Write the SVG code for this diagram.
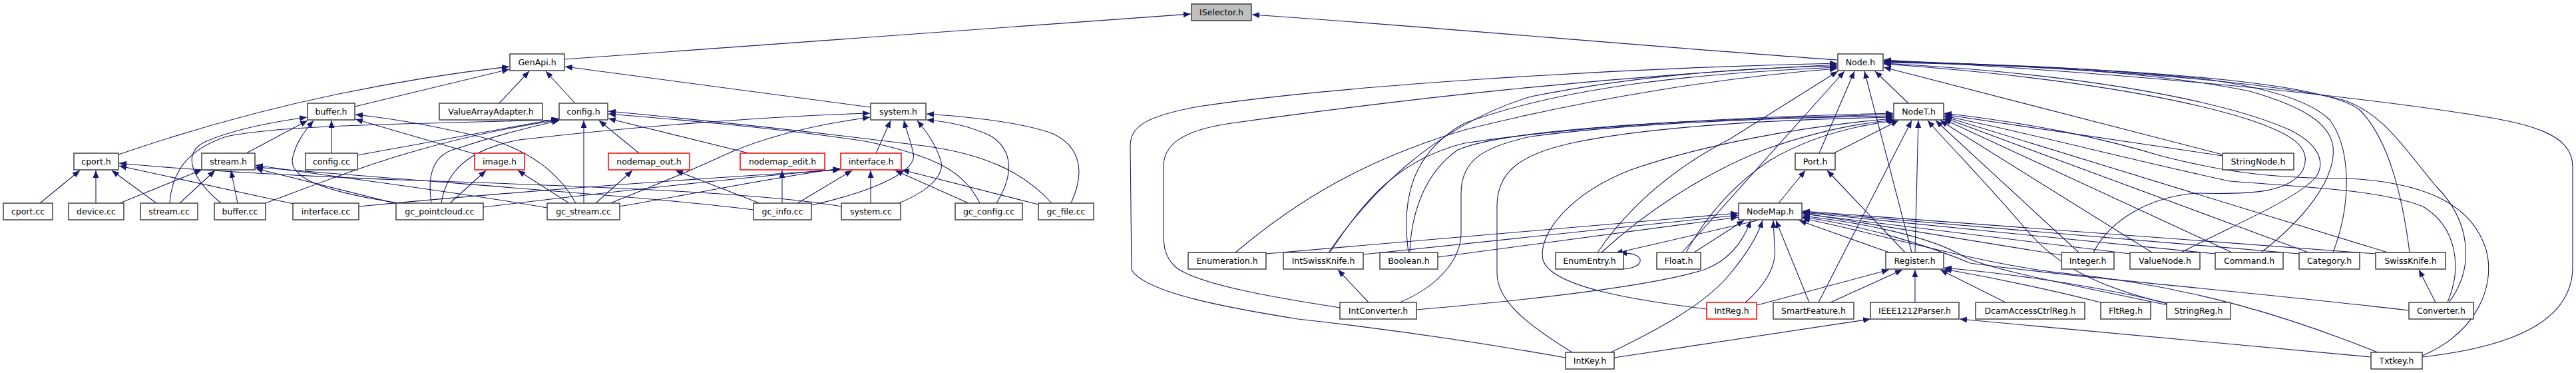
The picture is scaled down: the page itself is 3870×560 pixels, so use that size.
<svg xmlns="http://www.w3.org/2000/svg" width="3870" height="560" viewBox="0 0 3870 560">
<defs>
<marker id="a" markerWidth="11" markerHeight="9" refX="11" refY="4.5" orient="auto" markerUnits="userSpaceOnUse"><path d="M0,0 L11,4.5 L0,9 z" fill="#191970"/></marker>
<style>
.e{fill:none;stroke:#191970;stroke-width:1.1;marker-end:url(#a)}
.n rect{fill:#fff;stroke:#404040;stroke-width:1.5}
.r rect{fill:#fff;stroke:#ff0000;stroke-width:1.5}
.g rect{fill:#bfbfbf;stroke:#404040;stroke-width:1.5}
text{font-family:"DejaVu Sans","Liberation Sans",sans-serif;font-size:12.5px;text-anchor:middle;fill:#000}
</style>
</defs>
<rect width="3870" height="560" fill="#fff"/>
<g id="edges">
<path class="e" d="M848,89 L1789,21"/>
<path class="e" d="M2761,90 C2500,72 2100,36 1881,22"/>
<path class="e" d="M178,232 C300,190 500,130 765,100"/>
<path class="e" d="M533,160 L765,104"/>
<path class="e" d="M750,155 L795,107"/>
<path class="e" d="M864,155 L820,107"/>
<path class="e" d="M1308,161 L849,100"/>
<path class="e" d="M370,230 L462,181"/>
<path class="e" d="M498,230 L498,181"/>
<path class="e" d="M332,305 C290,270 270,230 310,212 C350,195 410,183 461,176"/>
<path class="e" d="M600,305 C500,290 430,270 440,235 C445,215 455,200 471,181"/>
<path class="e" d="M713,231 L534,179"/>
<path class="e" d="M865,305 C840,260 800,230 740,210 C660,190 590,178 534,172"/>
<path class="e" d="M255,305 C258,260 280,225 340,205 C420,188 600,186 839,180"/>
<path class="e" d="M537,233 L840,178"/>
<path class="e" d="M399,305 C520,260 640,210 840,180"/>
<path class="e" d="M648,305 C642,265 650,235 680,225 C740,205 790,192 840,181"/>
<path class="e" d="M663,305 C670,260 700,225 780,210 C950,190 1150,175 1307,170"/>
<path class="e" d="M877,305 L877,181"/>
<path class="e" d="M960,230 L900,181"/>
<path class="e" d="M1125,230 L914,178"/>
<path class="e" d="M1472,305 C1450,260 1410,235 1300,212 C1150,190 1000,178 914,171"/>
<path class="e" d="M1580,305 C1540,260 1480,230 1380,218 C1200,195 1000,175 914,167"/>
<path class="e" d="M270,305 L323,256"/>
<path class="e" d="M180,305 L303,255"/>
<path class="e" d="M357,305 L347,256"/>
<path class="e" d="M60,305 L120,256"/>
<path class="e" d="M144,305 L144,256"/>
<path class="e" d="M235,305 L168,256"/>
<path class="e" d="M441,306 L179,249"/>
<path class="e" d="M1264,310 C1150,290 900,280 600,270 C400,262 250,252 179,245"/>
<path class="e" d="M1132,315 C1000,298 800,285 384,251"/>
<path class="e" d="M597,306 L384,253"/>
<path class="e" d="M822,312 C700,290 500,265 384,248"/>
<path class="e" d="M676,305 L730,256"/>
<path class="e" d="M855,305 L778,256"/>
<path class="e" d="M895,305 L950,256"/>
<path class="e" d="M1141,305 L1015,256"/>
<path class="e" d="M1175,305 L1175,256"/>
<path class="e" d="M1198,305 L1280,256"/>
<path class="e" d="M1308,305 L1308,256"/>
<path class="e" d="M1455,305 L1345,256"/>
<path class="e" d="M1560,307 L1355,255"/>
<path class="e" d="M539,310 C800,285 1100,265 1262,255"/>
<path class="e" d="M726,311 C900,290 1100,268 1262,254"/>
<path class="e" d="M930,310 C1050,290 1150,268 1262,253"/>
<path class="e" d="M1316,230 L1338,181"/>
<path class="e" d="M1219,308 C1300,290 1380,260 1372,230 C1368,210 1362,198 1358,181"/>
<path class="e" d="M1350,305 C1400,285 1420,260 1413,240 C1405,215 1392,198 1378,181"/>
<path class="e" d="M1497,305 C1525,260 1520,225 1490,205 C1460,190 1430,183 1392,180"/>
<path class="e" d="M1609,305 C1630,260 1625,220 1580,200 C1530,182 1450,175 1392,171"/>
<path class="e" d="M917,305 C980,280 1040,255 1090,232 C1150,205 1220,188 1307,176"/>
<path class="e" d="M2867,155 L2817,107"/>
<path class="e" d="M2733,230 L2786,107"/>
<path class="e" d="M2872,379 L2801,107"/>
<path class="e" d="M2352,537 C2200,510 2050,490 1950,479 C1850,463 1720,440 1700,405 L1698,220 C1698,190 1720,175 1800,160 C2000,130 2400,103 2760,95"/>
<path class="e" d="M2013,462 C1950,452 1800,430 1765,400 C1750,385 1748,370 1748,350 L1748,250 C1748,215 1780,195 1850,185 C2100,150 2400,115 2760,97"/>
<path class="e" d="M1996,379 C2050,300 2150,190 2300,145 C2450,115 2600,102 2760,99"/>
<path class="e" d="M2116,379 C2105,300 2120,230 2200,185 C2350,130 2550,110 2760,101"/>
<path class="e" d="M1856,379 C1950,300 2050,240 2200,195 C2400,145 2600,115 2760,103"/>
<path class="e" d="M2400,379 C2440,320 2500,260 2600,208 L2761,107"/>
<path class="e" d="M2527,379 L2771,107"/>
<path class="e" d="M3339,232 L2830,101"/>
<path class="e" d="M3145,379 C3170,330 3230,295 3300,290 C3380,292 3440,290 3460,255 C3475,220 3440,200 3380,180 C3280,148 3100,115 2830,96"/>
<path class="e" d="M3277,379 C3350,340 3450,300 3480,265 C3495,240 3480,215 3440,195 C3350,155 3150,112 2830,95"/>
<path class="e" d="M3397,379 C3460,330 3510,270 3505,220 C3500,185 3460,160 3380,137 C3250,110 3050,97 2830,94"/>
<path class="e" d="M3505,379 C3535,300 3530,220 3500,180 C3470,150 3400,130 3300,117 C3150,103 3000,95 2830,93"/>
<path class="e" d="M3620,379 C3610,300 3590,210 3545,165 C3500,130 3300,105 2830,92"/>
<path class="e" d="M3679,454 C3720,400 3710,330 3660,280 C3610,220 3580,170 3520,150 C3400,120 3100,100 2830,91"/>
<path class="e" d="M3639,536 C3780,520 3865,480 3865,400 L3865,250 C3865,200 3800,185 3700,170 C3500,140 3200,110 2830,90"/>
<path class="e" d="M2755,230 L2852,181"/>
<path class="e" d="M2732,454 L2872,181"/>
<path class="e" d="M2877,379 L2882,181"/>
<path class="e" d="M3256,456 C3150,430 3090,400 3040,340 C2980,270 2930,220 2896,181"/>
<path class="e" d="M3123,379 L2908,181"/>
<path class="e" d="M3233,379 L2915,181"/>
<path class="e" d="M3353,379 L2920,179"/>
<path class="e" d="M3468,379 L2921,177"/>
<path class="e" d="M3587,379 L2921,175"/>
<path class="e" d="M3339,234 L2921,172"/>
<path class="e" d="M3677,454 C3700,400 3690,340 3640,310 C3580,285 3450,280 3350,272 C3200,240 3050,200 2921,174"/>
<path class="e" d="M3639,534 C3720,500 3750,430 3735,375 C3715,310 3650,275 3530,268 C3400,268 3330,255 3250,235 C3150,205 3050,185 2921,170"/>
<path class="e" d="M2362,529 C2290,485 2249,450 2249,410 L2249,310 C2249,260 2280,232 2365,214 C2480,190 2650,180 2844,176"/>
<path class="e" d="M2564,464 C2450,450 2330,430 2318,390 C2310,350 2360,290 2450,255 C2550,220 2700,190 2844,178"/>
<path class="e" d="M2103,454 C2160,430 2195,390 2195,350 L2195,290 C2195,240 2230,220 2300,205 C2450,185 2650,177 2844,174"/>
<path class="e" d="M2118,379 C2120,320 2140,260 2190,225 C2260,195 2500,180 2844,172"/>
<path class="e" d="M1998,379 C2050,300 2100,240 2200,215 C2400,185 2650,175 2844,170"/>
<path class="e" d="M2406,379 C2470,320 2560,260 2650,225 C2720,200 2790,185 2846,180"/>
<path class="e" d="M2533,379 C2560,330 2600,280 2660,240 C2720,205 2790,188 2848,181"/>
<path class="e" d="M2672,305 L2712,256"/>
<path class="e" d="M2838,379 L2703,331"/>
<path class="e" d="M2718,454 L2668,331"/>
<path class="e" d="M2622,454 C2650,430 2670,400 2666,370 L2664,331"/>
<path class="e" d="M2418,530 C2480,500 2560,460 2600,410 C2625,380 2640,355 2648,331"/>
<path class="e" d="M2128,465 C2300,450 2480,430 2560,405 C2600,390 2620,360 2630,331"/>
<path class="e" d="M1902,381 L2611,320"/>
<path class="e" d="M2048,382 L2611,323"/>
<path class="e" d="M2160,386 L2611,326"/>
<path class="e" d="M2640,331 L2427,380"/>
<path class="e" d="M2430,404 C2475,406 2475,376 2433,381"/>
<path class="e" d="M2545,379 L2620,331"/>
<path class="e" d="M3097,383 L2708,320"/>
<path class="e" d="M3200,381 L2708,321"/>
<path class="e" d="M3328,381 L2708,319"/>
<path class="e" d="M3454,381 L2708,318"/>
<path class="e" d="M3569,381 L2708,317"/>
<path class="e" d="M3256,458 C3100,425 2990,405 2950,385 C2900,355 2800,335 2708,324"/>
<path class="e" d="M3619,466 C3400,440 3100,415 2960,395 C2900,370 2800,338 2708,326"/>
<path class="e" d="M3572,529 C3450,480 3300,430 3100,410 C2980,398 2800,345 2708,328"/>
<path class="e" d="M2862,379 L2745,256"/>
<path class="e" d="M2640,458 L2838,405"/>
<path class="e" d="M2750,454 L2858,405"/>
<path class="e" d="M2877,454 L2877,405"/>
<path class="e" d="M3013,454 L2915,405"/>
<path class="e" d="M3160,455 C3080,435 3000,418 2921,404"/>
<path class="e" d="M3256,455 C3150,430 3030,412 2921,402"/>
<path class="e" d="M2425,537 L2810,479"/>
<path class="e" d="M3562,536 L2944,479"/>
<path class="e" d="M2056,454 L2010,405"/>
<path class="e" d="M3659,454 L3634,405"/>
</g>
<g id="n_ISelector_h" class="g"><rect x="1790" y="6" width="90" height="25"/><text x="1835" y="23">ISelector.h</text></g>
<g id="n_GenApi_h" class="n"><rect x="766" y="81" width="82" height="25"/><text x="807" y="98">GenApi.h</text></g>
<g id="n_buffer_h" class="n"><rect x="462" y="155" width="71" height="25"/><text x="497.5" y="172">buffer.h</text></g>
<g id="n_ValueArrayAdapter_h" class="n"><rect x="660" y="155" width="155" height="25"/><text x="737.5" y="172">ValueArrayAdapter.h</text></g>
<g id="n_config_h" class="n"><rect x="840" y="155" width="73" height="25"/><text x="876.5" y="172">config.h</text></g>
<g id="n_system_h" class="n"><rect x="1308" y="155" width="83" height="25"/><text x="1349.5" y="172">system.h</text></g>
<g id="n_cport_h" class="n"><rect x="111" y="230" width="67" height="25"/><text x="144.5" y="247">cport.h</text></g>
<g id="n_stream_h" class="n"><rect x="303" y="230" width="80" height="25"/><text x="343" y="247">stream.h</text></g>
<g id="n_config_cc" class="n"><rect x="459" y="230" width="78" height="25"/><text x="498" y="247">config.cc</text></g>
<g id="n_image_h" class="r"><rect x="713" y="230" width="75" height="25"/><text x="750.5" y="247">image.h</text></g>
<g id="n_nodemap_out_h" class="r"><rect x="914" y="230" width="122" height="25"/><text x="975" y="247">nodemap_out.h</text></g>
<g id="n_nodemap_edit_h" class="r"><rect x="1112" y="230" width="127" height="25"/><text x="1175.5" y="247">nodemap_edit.h</text></g>
<g id="n_interface_h" class="r"><rect x="1263" y="230" width="91" height="25"/><text x="1308.5" y="247">interface.h</text></g>
<g id="n_cport_cc" class="n"><rect x="5" y="305" width="74" height="25"/><text x="42" y="322">cport.cc</text></g>
<g id="n_device_cc" class="n"><rect x="103" y="305" width="83" height="25"/><text x="144.5" y="322">device.cc</text></g>
<g id="n_stream_cc" class="n"><rect x="211" y="305" width="86" height="25"/><text x="254" y="322">stream.cc</text></g>
<g id="n_buffer_cc" class="n"><rect x="322" y="305" width="77" height="25"/><text x="360.5" y="322">buffer.cc</text></g>
<g id="n_interface_cc" class="n"><rect x="440" y="305" width="99" height="25"/><text x="489.5" y="322">interface.cc</text></g>
<g id="n_gc_pointcloud_cc" class="n"><rect x="595" y="305" width="131" height="25"/><text x="660.5" y="322">gc_pointcloud.cc</text></g>
<g id="n_gc_stream_cc" class="n"><rect x="822" y="305" width="109" height="25"/><text x="876.5" y="322">gc_stream.cc</text></g>
<g id="n_gc_info_cc" class="n"><rect x="1132" y="305" width="87" height="25"/><text x="1175.5" y="322">gc_info.cc</text></g>
<g id="n_system_cc" class="n"><rect x="1264" y="305" width="89" height="25"/><text x="1308.5" y="322">system.cc</text></g>
<g id="n_gc_config_cc" class="n"><rect x="1435" y="305" width="101" height="25"/><text x="1485.5" y="322">gc_config.cc</text></g>
<g id="n_gc_file_cc" class="n"><rect x="1560" y="305" width="83" height="25"/><text x="1601.5" y="322">gc_file.cc</text></g>
<g id="n_Node_h" class="n"><rect x="2761" y="81" width="68" height="25"/><text x="2795" y="98">Node.h</text></g>
<g id="n_NodeT_h" class="n"><rect x="2845" y="155" width="75" height="25"/><text x="2882.5" y="172">NodeT.h</text></g>
<g id="n_Port_h" class="n"><rect x="2697" y="230" width="60" height="25"/><text x="2727" y="247">Port.h</text></g>
<g id="n_StringNode_h" class="n"><rect x="3339" y="230" width="107" height="25"/><text x="3392.5" y="247">StringNode.h</text></g>
<g id="n_NodeMap_h" class="n"><rect x="2612" y="305" width="95" height="25"/><text x="2659.5" y="322">NodeMap.h</text></g>
<g id="n_Enumeration_h" class="n"><rect x="1785" y="379" width="117" height="25"/><text x="1843.5" y="396">Enumeration.h</text></g>
<g id="n_IntSwissKnife_h" class="n"><rect x="1928" y="379" width="120" height="25"/><text x="1988" y="396">IntSwissKnife.h</text></g>
<g id="n_Boolean_h" class="n"><rect x="2073" y="379" width="87" height="25"/><text x="2116.5" y="396">Boolean.h</text></g>
<g id="n_EnumEntry_h" class="n"><rect x="2337" y="379" width="102" height="25"/><text x="2388" y="396">EnumEntry.h</text></g>
<g id="n_Float_h" class="n"><rect x="2489" y="379" width="66" height="25"/><text x="2522" y="396">Float.h</text></g>
<g id="n_Register_h" class="n"><rect x="2833" y="379" width="87" height="25"/><text x="2876.5" y="396">Register.h</text></g>
<g id="n_Integer_h" class="n"><rect x="3097" y="379" width="79" height="25"/><text x="3136.5" y="396">Integer.h</text></g>
<g id="n_ValueNode_h" class="n"><rect x="3200" y="379" width="105" height="25"/><text x="3252.5" y="396">ValueNode.h</text></g>
<g id="n_Command_h" class="n"><rect x="3328" y="379" width="102" height="25"/><text x="3379" y="396">Command.h</text></g>
<g id="n_Category_h" class="n"><rect x="3454" y="379" width="91" height="25"/><text x="3499.5" y="396">Category.h</text></g>
<g id="n_SwissKnife_h" class="n"><rect x="3569" y="379" width="105" height="25"/><text x="3621.5" y="396">SwissKnife.h</text></g>
<g id="n_IntConverter_h" class="n"><rect x="2013" y="454" width="115" height="25"/><text x="2070.5" y="471">IntConverter.h</text></g>
<g id="n_IntReg_h" class="r"><rect x="2564" y="454" width="75" height="25"/><text x="2601.5" y="471">IntReg.h</text></g>
<g id="n_SmartFeature_h" class="n"><rect x="2664" y="454" width="121" height="25"/><text x="2724.5" y="471">SmartFeature.h</text></g>
<g id="n_IEEE1212Parser_h" class="n"><rect x="2810" y="454" width="133" height="25"/><text x="2876.5" y="471">IEEE1212Parser.h</text></g>
<g id="n_DcamAccessCtrlReg_h" class="n"><rect x="2968" y="454" width="164" height="25"/><text x="3050" y="471">DcamAccessCtrlReg.h</text></g>
<g id="n_FltReg_h" class="n"><rect x="3156" y="454" width="75" height="25"/><text x="3193.5" y="471">FltReg.h</text></g>
<g id="n_StringReg_h" class="n"><rect x="3255" y="454" width="96" height="25"/><text x="3303" y="471">StringReg.h</text></g>
<g id="n_Converter_h" class="n"><rect x="3619" y="454" width="97" height="25"/><text x="3667.5" y="471">Converter.h</text></g>
<g id="n_IntKey_h" class="n"><rect x="2352" y="529" width="73" height="25"/><text x="2388.5" y="546">IntKey.h</text></g>
<g id="n_Txtkey_h" class="n"><rect x="3562" y="529" width="77" height="25"/><text x="3600.5" y="546">Txtkey.h</text></g>
</svg>
